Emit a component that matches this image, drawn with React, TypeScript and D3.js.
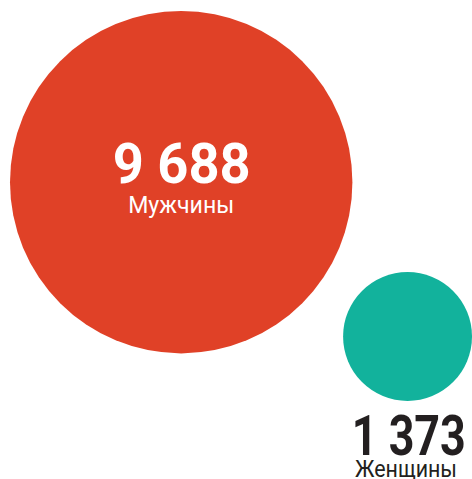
import React from "react";
import * as d3 from "d3";

const labels = ["Мужчины", "Женщины"];
const values = [9688, 1373];
const colors = ["#e04127", "#12b29c"];

const W = 472;
const H = 479;

export default function App() {
  const r = d3.scaleSqrt().domain([0, d3.max(values) as number]).range([0, 171.2]);
  const fmt = (v: number) => d3.format(",")(v).replace(/,/g, " ");
  const rBig = r(values[0]);
  const rSmall = r(values[1]);
  const big = { cx: 181.2, cy: 182.2 };
  const small = { cx: W - rSmall, cy: 336.5 };
  const font = "Roboto, 'Noto Sans', sans-serif";
  return (
    <svg width={W} height={H} style={{ position: "absolute", left: 0, top: 0, background: "#fff" }}>
      <circle cx={big.cx} cy={big.cy} r={rBig} fill={colors[0]} />
      <circle cx={small.cx} cy={small.cy} r={rSmall} fill={colors[1]} />
      <text x={big.cx + 0.5} y={182.7} textAnchor="middle" fill="#fff" fontFamily={font} fontWeight={700} fontSize={55} textLength={138} lengthAdjust="spacingAndGlyphs">
        {fmt(values[0])}
      </text>
      <text x={big.cx} y={213.3} textAnchor="middle" fill="#fff" fontFamily={font} fontWeight={400} fontSize={23} textLength={106} lengthAdjust="spacingAndGlyphs">
        {labels[0]}
      </text>
      <text x={408.8} y={455} textAnchor="middle" fill="#231f20" fontFamily={font} fontWeight={700} fontSize={55} textLength={114} lengthAdjust="spacingAndGlyphs">
        {fmt(values[1])}
      </text>
      <text x={406} y={477} textAnchor="middle" fill="#231f20" fontFamily={font} fontWeight={400} fontSize={23} textLength={102} lengthAdjust="spacingAndGlyphs">
        {labels[1]}
      </text>
    </svg>
  );
}
